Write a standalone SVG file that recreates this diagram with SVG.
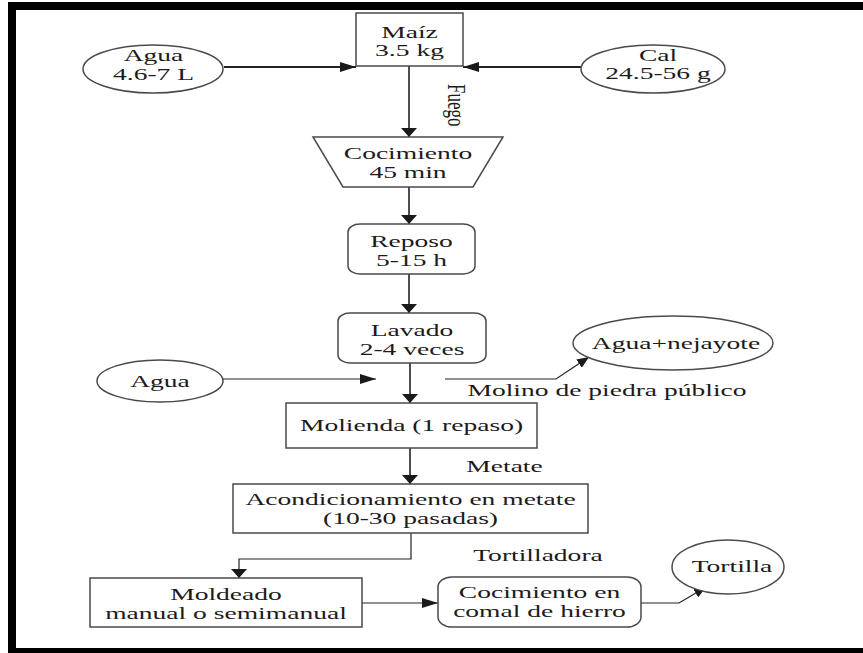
<svg xmlns="http://www.w3.org/2000/svg" width="863" height="653" viewBox="0 0 863 653">
<style>
.t{font-family:"Liberation Serif","Times New Roman",serif;font-size:17px;fill:#1e1a1b;text-anchor:middle}
.n{fill:#fff;stroke:#4a4a4a;stroke-width:1.5}
.c{fill:none;stroke:#222;stroke-width:1.6}
.thin{stroke-width:1.2}
.bold{stroke-width:2.2}
</style>
<defs>
<marker id="ah" markerUnits="userSpaceOnUse" markerWidth="16" markerHeight="10" refX="16" refY="5" orient="auto"><path d="M0,0 L16,5 L0,10 z" fill="#1a1a1a"/></marker>
<marker id="av" markerUnits="userSpaceOnUse" markerWidth="10" markerHeight="16" refX="9" refY="8" orient="auto"><path d="M0,0 L9,8 L0,16 z" fill="#1a1a1a"/></marker>
<marker id="ad" markerUnits="userSpaceOnUse" markerWidth="13" markerHeight="10" refX="12" refY="5" orient="auto"><path d="M0,0 L12,5 L0,10 z" fill="#1a1a1a"/></marker>
</defs>
<rect width="863" height="653" fill="#fff"/>
<g id="frame" fill="#000">
<rect x="8" y="2" width="855" height="8"/>
<rect x="8" y="2" width="8" height="651"/>
<rect x="8" y="648" width="855" height="5"/>
</g>
<g id="connectors">
<line class="c bold" x1="224" y1="67" x2="356" y2="67" marker-end="url(#ah)"/>
<line class="c bold" x1="581" y1="67" x2="463" y2="67" marker-end="url(#ah)"/>
<line class="c" x1="409" y1="66" x2="409" y2="137" marker-end="url(#av)"/>
<line class="c" x1="409" y1="187" x2="409" y2="224" marker-end="url(#av)"/>
<line class="c" x1="409" y1="274" x2="409" y2="313" marker-end="url(#av)"/>
<line class="c" x1="410" y1="363" x2="410" y2="403" marker-end="url(#av)"/>
<line class="c thin" x1="223" y1="379" x2="376" y2="379" marker-end="url(#ah)"/>
<polyline class="c thin" points="445,379 556,379 589,357" marker-end="url(#ad)"/>
<line class="c" x1="410" y1="448" x2="410" y2="484" marker-end="url(#av)"/>
<polyline class="c thin" points="411,533 411,559 239,559 239,578" marker-end="url(#av)"/>
<line class="c thin" x1="362" y1="603" x2="438" y2="603" marker-end="url(#ah)"/>
<polyline class="c thin" points="641,603 679,603 706,587" marker-end="url(#ad)"/>
</g>
<g id="agua1"><ellipse class="n" cx="153" cy="69" rx="70" ry="24"/><text class="t" transform="matrix(1.62 0 0 1 153.5 61)">Agua</text><text class="t" transform="matrix(1.62 0 0 1 153.5 80)">4.6-7 L</text></g>
<g id="maiz"><rect class="n" x="356" y="13" width="107" height="53"/><text class="t" transform="matrix(1.62 0 0 1 409.5 38)">Maíz</text><text class="t" transform="matrix(1.62 0 0 1 409.5 56)">3.5 kg</text></g>
<g id="cal"><ellipse class="n" cx="653" cy="69" rx="72" ry="24"/><text class="t" transform="matrix(1.62 0 0 1 658 61)">Cal</text><text class="t" transform="matrix(1.62 0 0 1 658 79)">24.5-56 g</text></g>
<g id="fuego"><text class="t" style="text-anchor:start" transform="translate(448,84) scale(1.5,1) rotate(90)">Fuego</text></g>
<g id="cocimiento"><polygon class="n" points="313,137 503,137 473,187 343,187"/><text class="t" transform="matrix(1.62 0 0 1 408 159)">Cocimiento</text><text class="t" transform="matrix(1.62 0 0 1 408 178)">45 min</text></g>
<g id="reposo"><rect class="n" x="348" y="224" width="127" height="50" rx="12" ry="8"/><text class="t" transform="matrix(1.62 0 0 1 411.5 247)">Reposo</text><text class="t" transform="matrix(1.62 0 0 1 411.5 266)">5-15 h</text></g>
<g id="lavado"><rect class="n" x="338" y="313" width="148" height="50" rx="12" ry="8"/><text class="t" transform="matrix(1.62 0 0 1 412 336)">Lavado</text><text class="t" transform="matrix(1.62 0 0 1 412 355)">2-4 veces</text></g>
<g id="agua2"><ellipse class="n" cx="160" cy="381" rx="63" ry="21"/><text class="t" transform="matrix(1.62 0 0 1 160 387)">Agua</text></g>
<g id="nejayote"><ellipse class="n" cx="673" cy="343" rx="100" ry="27"/><text class="t" transform="matrix(1.62 0 0 1 676 349)">Agua+nejayote</text></g>
<g id="molino"><text class="t" transform="matrix(1.62 0 0 1 607 396)">Molino de piedra público</text></g>
<g id="molienda"><rect class="n" x="286" y="403" width="251" height="45"/><text class="t" transform="matrix(1.62 0 0 1 411.5 431)">Molienda (1 repaso)</text></g>
<g id="metate"><text class="t" transform="matrix(1.62 0 0 1 504.5 472)">Metate</text></g>
<g id="acondicionamiento"><rect class="n" x="233" y="484" width="355" height="49"/><text class="t" transform="matrix(1.62 0 0 1 410.5 505)">Acondicionamiento en metate</text><text class="t" transform="matrix(1.62 0 0 1 410.5 524)">(10-30 pasadas)</text></g>
<g id="tortilladora"><text class="t" transform="matrix(1.62 0 0 1 538 561)">Tortilladora</text></g>
<g id="moldeado"><rect class="n" x="90" y="578" width="272" height="49"/><text class="t" transform="matrix(1.62 0 0 1 226 600)">Moldeado</text><text class="t" transform="matrix(1.62 0 0 1 226 619)">manual o semimanual</text></g>
<g id="comal"><rect class="n" x="438" y="577" width="203" height="50" rx="14" ry="10"/><text class="t" transform="matrix(1.62 0 0 1 539.5 598)">Cocimiento en</text><text class="t" transform="matrix(1.62 0 0 1 539.5 617)">comal de hierro</text></g>
<g id="tortilla"><ellipse class="n" cx="728" cy="567" rx="56" ry="27"/><text class="t" transform="matrix(1.62 0 0 1 732 572)">Tortilla</text></g>
</svg>
